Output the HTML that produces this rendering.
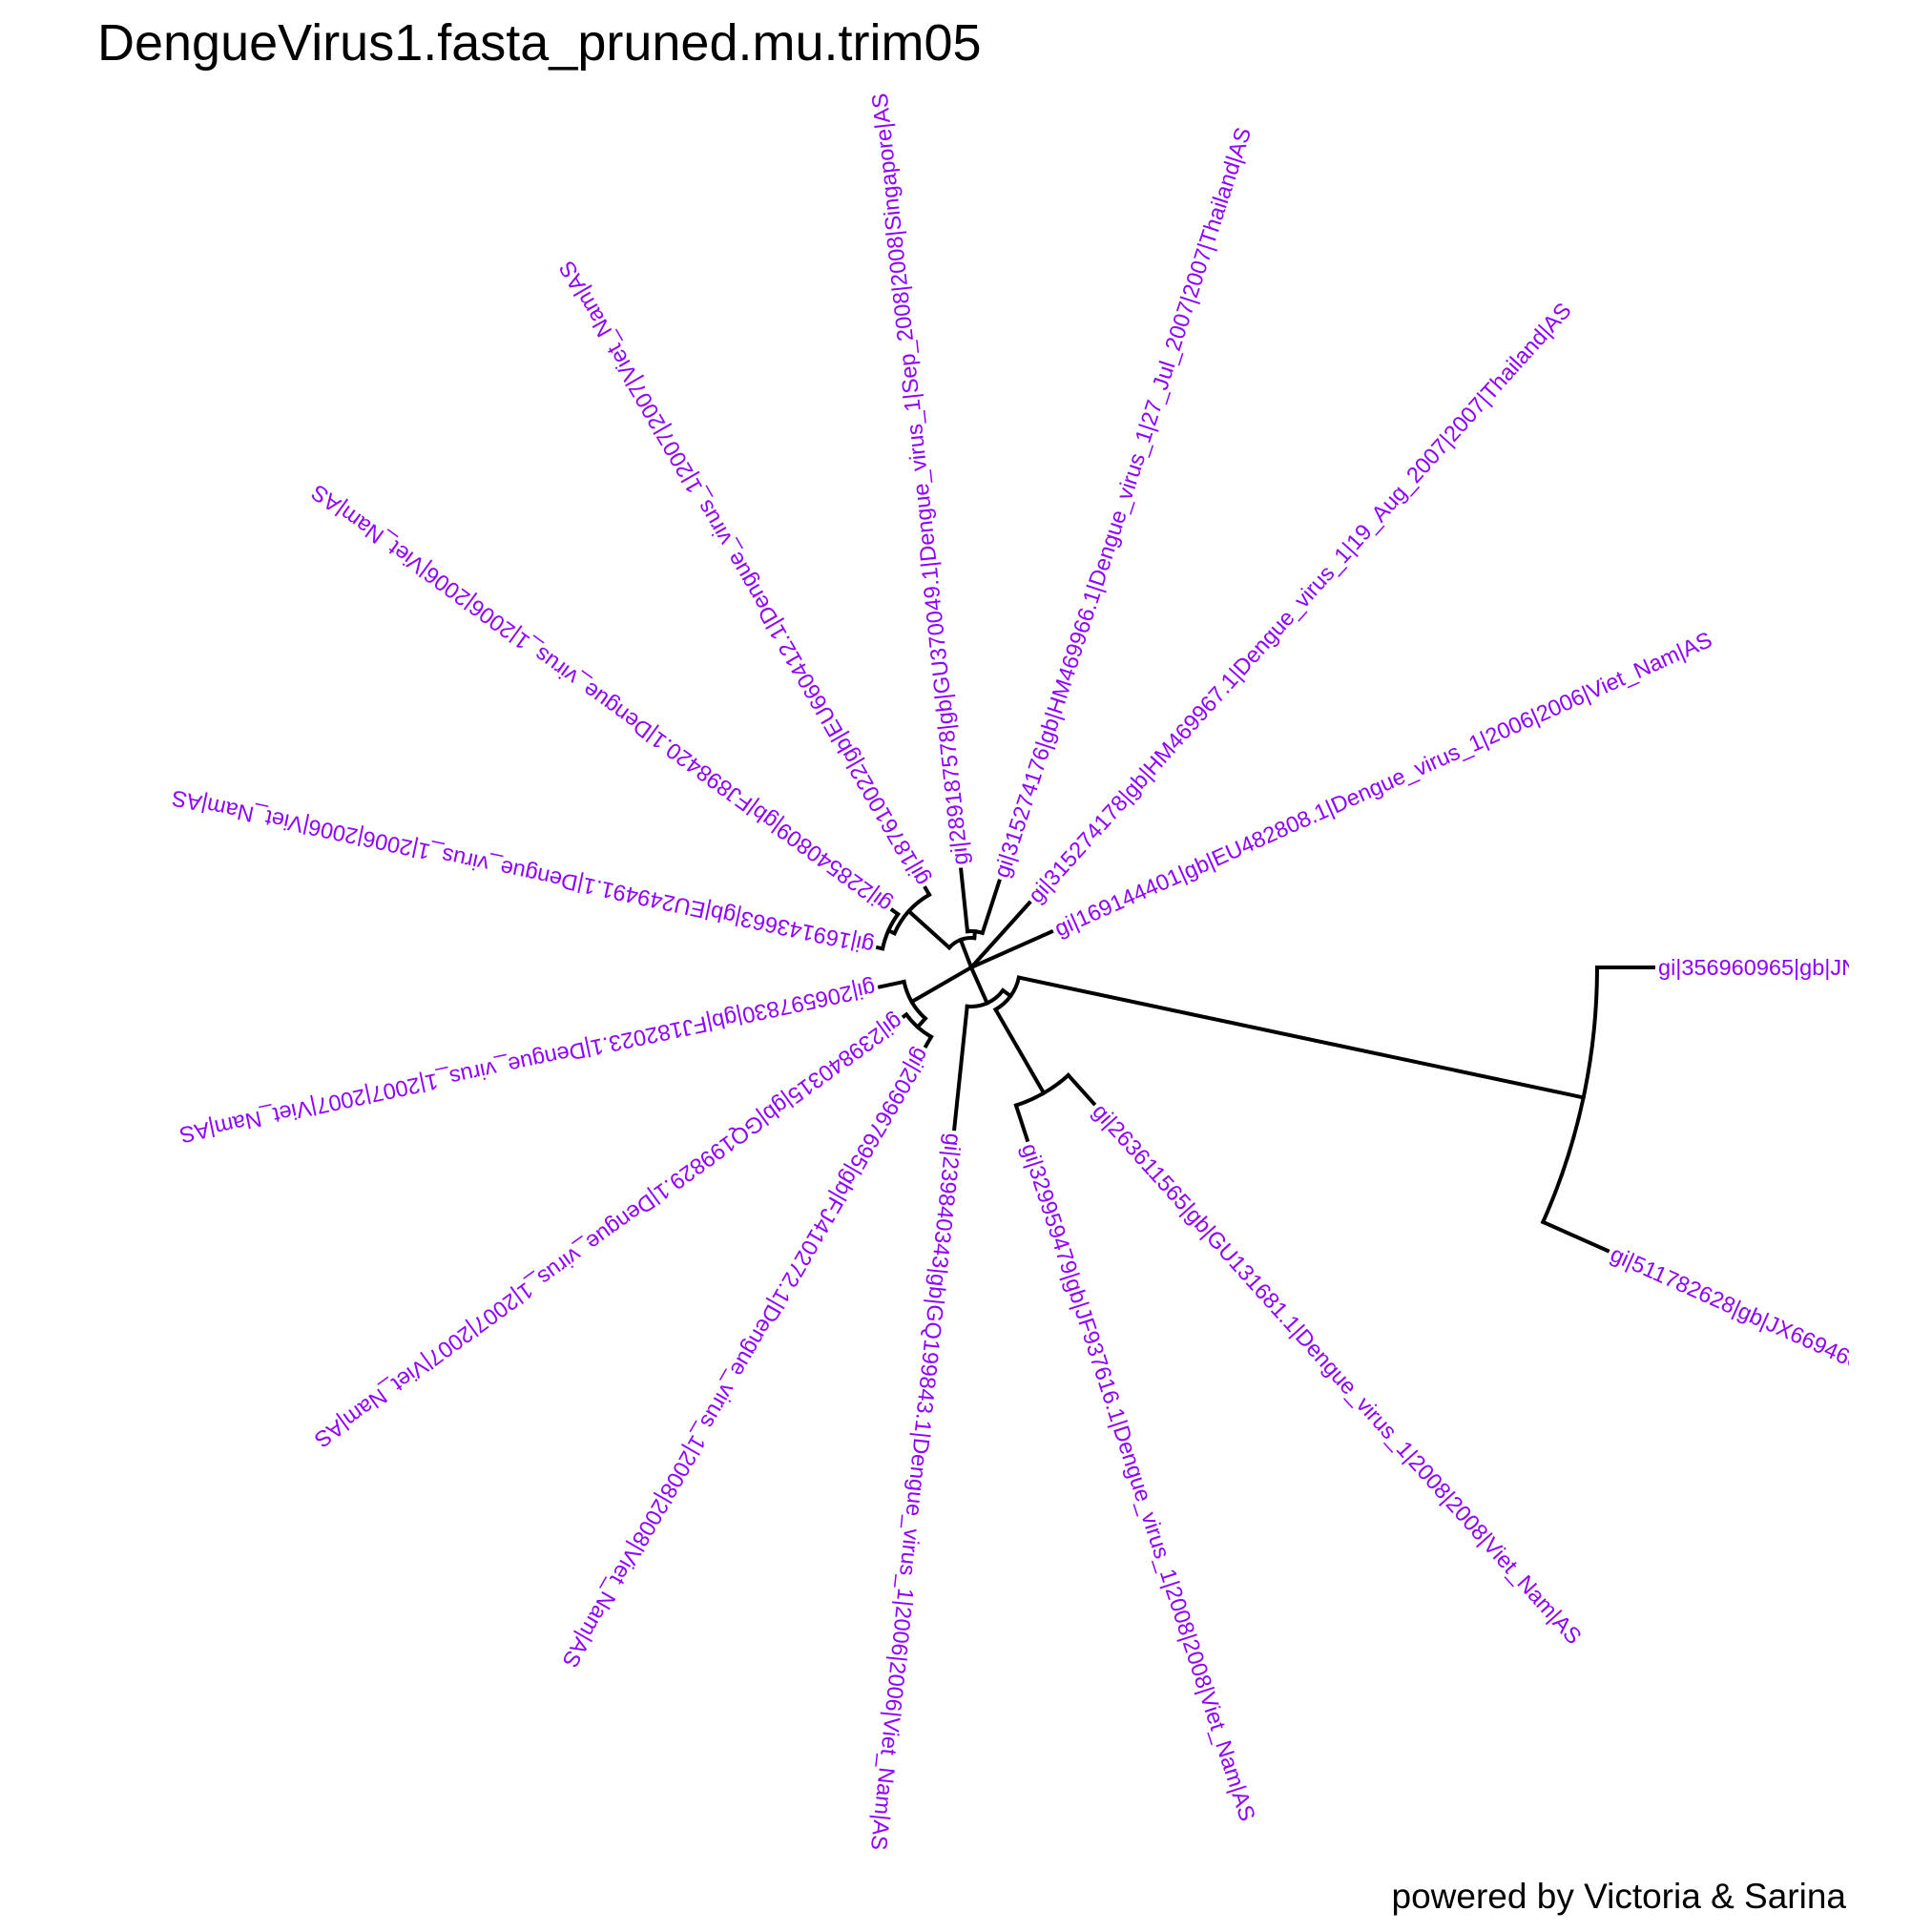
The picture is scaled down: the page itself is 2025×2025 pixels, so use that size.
<!DOCTYPE html>
<html>
<head>
<meta charset="utf-8">
<style>
html,body{margin:0;padding:0;background:#fff;}
svg{display:block;}
text{font-family:"Liberation Sans",Arial,sans-serif;}
</style>
</head>
<body>
<svg id="chart" width="2025" height="2025" viewBox="0 0 2025 2025" xmlns="http://www.w3.org/2000/svg">
  <rect x="0" y="0" width="2025" height="2025" fill="#fff"/>
  <defs>
    <clipPath id="panelClip"><rect x="0" y="80" width="1938" height="1880"/></clipPath>
  </defs>
  <text x="102" y="63" font-size="54" fill="#000">DengueVirus1.fasta_pruned.mu.trim05</text>
  <g id="tree" clip-path="url(#panelClip)"></g>
  <text x="1935" y="2000" font-size="37" fill="#000" text-anchor="end">powered by Victoria &amp; Sarina</text>
</svg>
<script>
// ---- data ----
const tipLabels = [
  "gi|356960965|gb|JN544411.1|Dengue_virus_1|2008|2008|Viet_Nam|AS",
  "gi|511782628|gb|JX669466.1|Dengue_virus_1|2008|2008|Viet_Nam|AS",
  "gi|263611565|gb|GU131681.1|Dengue_virus_1|2008|2008|Viet_Nam|AS",
  "gi|329959479|gb|JF937616.1|Dengue_virus_1|2008|2008|Viet_Nam|AS",
  "gi|239840343|gb|GQ199843.1|Dengue_virus_1|2006|2006|Viet_Nam|AS",
  "gi|209967695|gb|FJ410272.1|Dengue_virus_1|2008|2008|Viet_Nam|AS",
  "gi|239840315|gb|GQ199829.1|Dengue_virus_1|2007|2007|Viet_Nam|AS",
  "gi|206597830|gb|FJ182023.1|Dengue_virus_1|2007|2007|Viet_Nam|AS",
  "gi|169143663|gb|EU249491.1|Dengue_virus_1|2006|2006|Viet_Nam|AS",
  "gi|228540809|gb|FJ898420.1|Dengue_virus_1|2006|2006|Viet_Nam|AS",
  "gi|187610022|gb|EU660412.1|Dengue_virus_1|2007|2007|Viet_Nam|AS",
  "gi|289187578|gb|GU370049.1|Dengue_virus_1|Sep_2008|2008|Singapore|AS",
  "gi|315274176|gb|HM469966.1|Dengue_virus_1|27_Jul_2007|2007|Thailand|AS",
  "gi|315274178|gb|HM469967.1|Dengue_virus_1|19_Aug_2007|2007|Thailand|AS",
  "gi|169144401|gb|EU482808.1|Dengue_virus_1|2006|2006|Viet_Nam|AS"
];
// node indices: 0-14 tips, 15 root, 16 A, 17 B, 18 G, 19 H, 20 E, 21 I, 22 D, 23 J, 24 K, 25 L
const nodeParent = [19,19,18,18,16,21,21,20,24,24,23,25,25,15,15, -1,15,16,17,17,15,20,15,22,23,22];
// distance from root (in screen-pixel units of the tree scale)
const nodeDepth  = [715,730,192,190,170,95,87,98,100,102,96,103,95,91,92, 0,41,51,152,656,72,84,31,88,95,38];

// ---- layout ----
const cx = 1018, cy = 1014;
const nTips = tipLabels.length;
const NS = "http://www.w3.org/2000/svg";
const g = document.getElementById('tree');
const nNodes = nodeParent.length;
const children = Array.from({length:nNodes},()=>[]);
nodeParent.forEach((p,i)=>{ if(p>=0) children[p].push(i); });
const angle = new Array(nNodes);
function computeAngle(i){
  if(i < nTips){ angle[i] = i*360/nTips; return angle[i]; }
  const cs = children[i].map(computeAngle);
  angle[i] = cs.reduce((a,b)=>a+b,0)/cs.length;
  return angle[i];
}
computeAngle(15);
function px(r,a){ return cx + r*Math.cos(a*Math.PI/180); }
function py(r,a){ return cy + r*Math.sin(a*Math.PI/180); }

function addPath(d,name){
  const p = document.createElementNS(NS,'path');
  p.setAttribute('d',d);
  p.setAttribute('fill','none');
  p.setAttribute('stroke','#000');
  p.setAttribute('stroke-width','4');
  p.setAttribute('stroke-linecap','square');
  p.setAttribute('stroke-linejoin','miter');
  
  
  g.appendChild(p);
}

// radial branches
for(let i=0;i<nNodes;i++){
  const p = nodeParent[i];
  if(p<0) continue;
  const r0 = nodeDepth[p], r1 = nodeDepth[i], a = angle[i];
  addPath(`M${px(r0,a)},${py(r0,a)} L${px(r1,a)},${py(r1,a)}`, 'branch-' + i);
}
// arcs for internal nodes
for(let i=nTips;i<nNodes;i++){
  const r = nodeDepth[i];
  if(r<=0 || children[i].length===0) continue;
  const angs = children[i].map(c=>angle[c]);
  const a0 = Math.min(...angs), a1 = Math.max(...angs);
  const large = (a1-a0)>180?1:0;
  addPath(`M${px(r,a0)},${py(r,a0)} A${r},${r} 0 ${large} 1 ${px(r,a1)},${py(r,a1)}`, 'clade-arc-' + i);
}
// tip labels
for(let i=0;i<nTips;i++){
  const r = nodeDepth[i] + 5, a = angle[i];
  const t = document.createElementNS(NS,'text');
  t.setAttribute('x', px(r,a));
  t.setAttribute('y', py(r,a));
  t.setAttribute('font-size','23.5');
  t.setAttribute('fill','#8f00ff');
  t.setAttribute('dominant-baseline','central');
  t.setAttribute('transform',`rotate(${a} ${px(r,a)} ${py(r,a)})`);
  
  
  t.textContent = tipLabels[i];
  g.appendChild(t);
}
</script>
</body>
</html>
